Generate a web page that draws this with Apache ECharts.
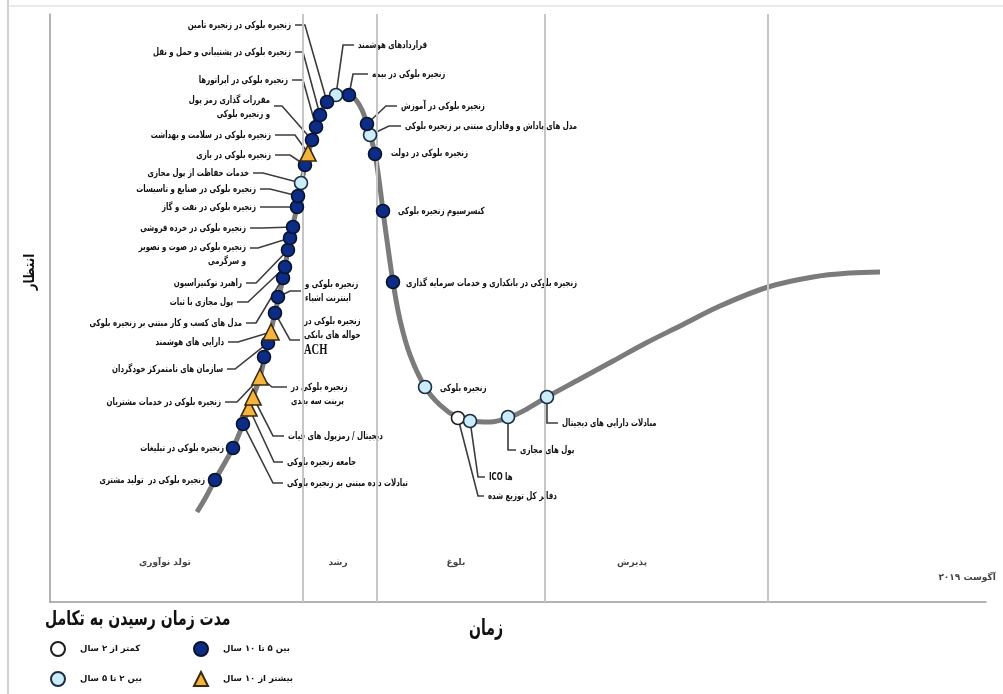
<!DOCTYPE html>
<html>
<head>
<meta charset="utf-8">
<script src="https://cdn.jsdelivr.net/npm/echarts@6/dist/echarts.min.js"></script>
<style>
html,body{margin:0;padding:0;background:#fff}
#chart{width:1003px;height:694px}
</style>
</head>
<body>
<div id="chart"></div>
<script>
// Hype cycle of blockchain technologies (August 2019)
const techNames = [
  'زنجیره بلوکی در  تولید مشتری',
  'زنجیره بلوکی در تبلیغات',
  'تبادلات داده مبتنی بر زنجیره بلوکی',
  'جامعه زنجیره بلوکی',
  'دیجیتال / رمزپول های فیات',
  'زنجیره بلوکی در\nپرینت سه بعدی',
  'زنجیره بلوکی در خدمات مشتریان',
  'سازمان های نامتمرکز خودگردان',
  'دارایی های هوشمند',
  'زنجیره بلوکی در\nحواله های بانکی\nACH',
  'زنجیره بلوکی و\nاینترنت اشیاء',
  'مدل های کسب و کار مبتنی بر زنجیره بلوکی',
  'پول مجازی با ثبات',
  'راهبرد توکنیزاسیون',
  'زنجیره بلوکی در صوت و تصویر\nو سرگرمی',
  'زنجیره بلوکی در خرده فروشی',
  'زنجیره بلوکی در نفت و گاز',
  'زنجیره بلوکی در صنایع و تاسیسات',
  'خدمات حفاظت از پول مجازی',
  'زنجیره بلوکی در بازی',
  'زنجیره بلوکی در سلامت و بهداشت',
  'مقررات گذاری رمز پول\nو زنجیره بلوکی',
  'زنجیره بلوکی در اپراتورها',
  'زنجیره بلوکی در پشتیبانی و حمل و نقل',
  'زنجیره بلوکی در زنجیره تامین',
  'قراردادهای هوشمند',
  'زنجیره بلوکی در بیمه',
  'زنجیره بلوکی در آموزش',
  'مدل های پاداش و وفاداری مبتنی بر زنجیره بلوکی',
  'زنجیره بلوکی در دولت',
  'کنسرسیوم زنجیره بلوکی',
  'زنجیره بلوکی در بانکداری و خدمات سرمایه گذاری',
  'زنجیره بلوکی',
  'دفاتر کل توزیع شده',
  'ICO ها',
  'پول های مجازی',
  'مبادلات دارایی های دیجیتال'
];
// position on the time axis
const techX = [18.33, 20.33, 21.44, 22.11, 22.56, 23.33, 23.78, 24.22, 24.56, 25.0,
  25.33, 25.89, 26.11, 26.44, 26.67, 27.0, 27.44, 27.56, 27.89, 28.33,
  28.67, 29.11, 29.56, 30.0, 30.78, 31.78, 33.22, 35.22, 35.56, 36.11,
  37.0, 38.11, 41.67, 45.33, 46.67, 50.89, 55.22];
// expectation level
const techY = [20.33, 25.67, 29.67, 32.33, 34.17, 37.5, 40.83, 43.17, 45.0, 48.17,
  50.83, 54.0, 55.83, 58.67, 60.67, 62.5, 65.83, 67.67, 69.83, 72.83,
  74.83, 77.0, 79.17, 81.17, 83.33, 84.5, 84.5, 79.67, 77.83, 74.67,
  65.17, 53.33, 35.83, 30.67, 30.17, 30.83, 34.17];
// time to plateau: 0 = <2y, 1 = 2-5y, 2 = 5-10y, 3 = >10y
const techMaturity = [2, 2, 2, 3, 3, 3, 2, 2, 3, 2,
  2, 2, 2, 2, 2, 2, 2, 2, 1, 2,
  3, 2, 2, 2, 2, 1, 2, 2, 1, 2,
  2, 2, 1, 0, 1, 1, 1];
const maturityNames = ['کمتر از ۲ سال', 'بین ۲ تا ۵ سال', 'بین ۵ تا ۱۰ سال', 'بیشتر از ۱۰ سال'];

// the hype curve
const curveX = [16.33, 17.33, 18.33, 20.33, 21.44, 22.56, 23.33, 24.22, 25.0, 25.89,
  26.67, 27.44, 28.33, 29.11, 30.0, 30.78, 31.78, 32.56, 33.22, 34.0,
  34.67, 35.22, 35.67, 36.11, 36.56, 37.0, 37.56, 38.11, 38.89, 40.0,
  41.67, 43.33, 45.33, 46.67, 48.89, 50.89, 53.0, 55.22, 58.89, 62.56,
  66.22, 70.0, 74.44, 79.78, 84.78, 88.89, 92.22];
const curveY = [15.0, 17.5, 20.33, 25.67, 29.67, 34.17, 37.5, 43.17, 48.17, 54.0,
  60.67, 65.83, 72.67, 77.0, 81.17, 83.33, 84.5, 84.83, 84.67, 83.67,
  82.0, 79.67, 77.33, 74.67, 70.33, 65.17, 59.0, 53.33, 47.0, 41.17,
  35.83, 32.83, 30.67, 30.17, 30.0, 30.67, 32.17, 34.17, 37.17, 40.17,
  43.17, 46.0, 49.33, 52.5, 54.17, 54.83, 55.0];

// phases of the cycle
const phaseNames = ['تولد نوآوری', 'رشد', 'بلوغ', 'پذیرش'];
const phaseCenters = [12.78, 32.0, 45.1, 64.67];
const phaseBoundaries = [28.06, 36.3, 55.0, 79.78];
const dateLabel = 'آگوست ۲۰۱۹';

// callout placement (axis units): [elbowX, elbowY, lineEndX, textY, side, extra bend]
const calloutLayout = [
  [null, null, 17.67, 20.33, 'L'],
  [null, null, 19.78, 25.67, 'L'],
  [24.78, 19.83, 25.89, 19.83, 'R'],
  [24.89, 23.33, 25.89, 23.33, 'R'],
  [24.78, 27.67, 26.0, 27.67, 'R'],
  [24.67, 35.83, 26.33, 34.67, 'R'],
  [20.78, 33.33, 19.44, 33.33, 'L', [22.99, 36.83]],
  [20.56, 38.83, 19.67, 38.83, 'L'],
  [20.89, 43.33, 19.78, 43.33, 'L'],
  [26.67, 43.67, 27.78, 44.33, 'R'],
  [26.67, 51.83, 27.89, 51.83, 'R'],
  [22.89, 46.5, 21.78, 46.5, 'L'],
  [22.0, 50.0, 20.78, 50.0, 'L'],
  [22.89, 53.17, 21.78, 53.17, 'L'],
  [23.11, 59.0, 22.22, 58.0, 'L'],
  [23.56, 62.33, 22.22, 62.33, 'L'],
  [24.44, 65.83, 23.33, 65.83, 'L'],
  [24.44, 68.83, 23.33, 68.83, 'L'],
  [23.67, 71.5, 22.56, 71.5, 'L'],
  [26.67, 74.5, 25.0, 74.5, 'L'],
  [27.22, 77.83, 25.0, 77.83, 'L'],
  [25.78, 82.67, 24.89, 82.5, 'L'],
  [28.11, 87.0, 26.89, 87.0, 'L'],
  [28.11, 91.67, 27.22, 91.67, 'L'],
  [28.33, 96.17, 27.22, 96.17, 'L'],
  [32.56, 92.83, 33.78, 92.83, 'R'],
  [33.67, 88.0, 35.33, 88.0, 'R'],
  [37.33, 82.67, 38.56, 82.67, 'R'],
  [37.67, 79.33, 39.0, 79.33, 'R'],
  [null, null, 37.44, 74.83, 'R'],
  [null, null, 38.22, 65.17, 'R'],
  [null, null, 39.11, 53.17, 'R'],
  [null, null, 42.89, 35.67, 'R'],
  [47.56, 17.67, 48.22, 17.67, 'R'],
  [47.56, 20.83, 48.33, 20.83, 'R'],
  [50.89, 25.33, 51.78, 25.33, 'R'],
  [55.22, 29.83, 56.44, 29.83, 'R']
];

const FONT = '"DejaVu Sans", sans-serif';
const LABEL_SQUEEZE = 0.7;
const markerStyles = [
  { symbol: 'circle', size: 13, color: '#ffffff', border: '#1e1e1e' },
  { symbol: 'circle', size: 13, color: '#cbedf9', border: '#1b2c46' },
  { symbol: 'circle', size: 13, color: '#0c2c85', border: '#08132f' },
  { symbol: 'triangle', size: 16, color: '#f4b43e', border: '#3b2a10' }
];

const chart = echarts.init(document.getElementById('chart'), null, { renderer: 'canvas' });

function renderCallout(params, api) {
  const i = api.value(2);
  const L = calloutLayout[i];
  const p = api.coord([techX[i], techY[i]]);
  const children = [];
  const left = L[4] === 'L';
  if (L[0] !== null) {
    const pts = [p];
    if (L[5]) pts.push(api.coord(L[5]));
    pts.push(api.coord([L[0], L[1]]));
    pts.push(api.coord([L[2], L[1]]));
    children.push({
      type: 'polyline',
      shape: { points: pts },
      style: { stroke: '#3c3c3c', lineWidth: 1.6, fill: null }
    });
  }
  const t = api.coord([L[2], L[3]]);
  let txt = techNames[i];
  if (txt.indexOf('ACH') >= 0) txt = txt.replace('ACH', '{ach|ACH}');
  children.push({
    type: 'text',
    x: t[0] + (left ? -4 : 4),
    y: t[1],
    scaleX: LABEL_SQUEEZE,
    z2: 5,
    style: {
      text: txt,
      align: left ? 'right' : 'left',
      verticalAlign: 'middle',
      font: 'bold 10px ' + FONT,
      fill: '#111',
      lineHeight: 14,
      backgroundColor: '#fff',
      rich: { ach: { font: 'bold 15px "Liberation Serif", serif', fill: '#111', lineHeight: 16 } }
    }
  });
  return { type: 'group', children };
}

const maturitySeries = maturityNames.map((name, k) => ({
  name,
  type: 'scatter',
  z: 5,
  symbol: markerStyles[k].symbol,
  symbolSize: markerStyles[k].size,
  itemStyle: { color: markerStyles[k].color, borderColor: markerStyles[k].border, borderWidth: 1.6, opacity: 1 },
  data: techNames.map((n, i) => ({ name: n, value: [techX[i], techY[i]], m: techMaturity[i] }))
    .filter(d => d.m === k),
  silent: true
}));

const legendText = { fontFamily: FONT, fontSize: 8.5, fontWeight: 'bold', color: '#111', padding: [0, 0, 0, 10] };

const option = {
  backgroundColor: '#ffffff',
  animation: false,
  legend: [
    { data: [maturityNames[0], maturityNames[1]], orient: 'vertical', left: 50, top: 641, padding: 0,
      itemWidth: 14, itemHeight: 14, itemGap: 14, textStyle: legendText },
    { data: [maturityNames[2], maturityNames[3]], orient: 'vertical', left: 193, top: 641, padding: 0,
      itemWidth: 14, itemHeight: 14, itemGap: 14, textStyle: legendText }
  ],
  grid: { left: 50, top: 14, width: 936, height: 588, containLabel: false },
  xAxis: {
    type: 'value', min: 0, max: 104,
    axisLine: { show: true, lineStyle: { color: '#9a9a9a', width: 1.5 } },
    axisTick: { show: false }, axisLabel: { show: false }, splitLine: { show: false }
  },
  yAxis: {
    type: 'value', min: 0, max: 98,
    axisLine: { show: true, lineStyle: { color: '#9a9a9a', width: 1.5 } },
    axisTick: { show: false }, axisLabel: { show: false }, splitLine: { show: false }
  },
  graphic: [
    { type: 'line', shape: { x1: 8, y1: 0, x2: 8, y2: 694 }, style: { stroke: '#c0c0c0', lineWidth: 1.5 } },
    { type: 'line', shape: { x1: 8, y1: 6, x2: 1003, y2: 6 }, style: { stroke: '#d6d6d6', lineWidth: 1.2 } },
    // axis titles and legend heading
    { type: 'text', x: 30, y: 272, rotation: Math.PI / 2, scaleX: 0.8,
      style: { text: 'انتظار', font: 'bold 15px ' + FONT, fill: '#111', align: 'center', verticalAlign: 'middle' } },
    { type: 'text', x: 486, y: 629, scaleX: 0.64,
      style: { text: 'زمان', font: 'bold 22px ' + FONT, fill: '#111', align: 'center', verticalAlign: 'middle' } },
    { type: 'text', x: 45, y: 620, scaleX: 0.7,
      style: { text: 'مدت زمان رسیدن به تکامل', font: 'bold 20px ' + FONT, fill: '#111', align: 'left', verticalAlign: 'middle' } }
  ],
  series: [
    {
      name: 'phases',
      type: 'scatter',
      z: 1,
      symbolSize: 0,
      silent: true,
      data: phaseNames.map((n, i) => ({ name: n, value: [phaseCenters[i], 6.5] }))
        .concat([{ name: dateLabel, value: [101.9, 4.0] }]),
      label: { show: true, position: 'inside', formatter: '{b}',
        fontFamily: FONT, fontSize: 9, fontWeight: 'bold', color: '#111' },
      markLine: {
        silent: true, symbol: 'none', label: { show: false },
        lineStyle: { color: '#c6c6c6', width: 2, type: 'solid' },
        data: phaseBoundaries.map(v => ({ xAxis: v }))
      }
    },
    {
      name: 'curve',
      type: 'line',
      z: 2,
      smooth: 0.35,
      symbol: 'none',
      silent: true,
      lineStyle: { color: '#7b7b7b', width: 5 },
      data: curveX.map((x, i) => [x, curveY[i]])
    },
    {
      name: 'callouts',
      type: 'custom',
      z: 3,
      silent: true,
      clip: false,
      renderItem: renderCallout,
      data: techX.map((x, i) => [x, techY[i], i]),
      encode: { x: 0, y: 1 }
    }
  ].concat(maturitySeries)
};

chart.setOption(option);
</script>
</body>
</html>
